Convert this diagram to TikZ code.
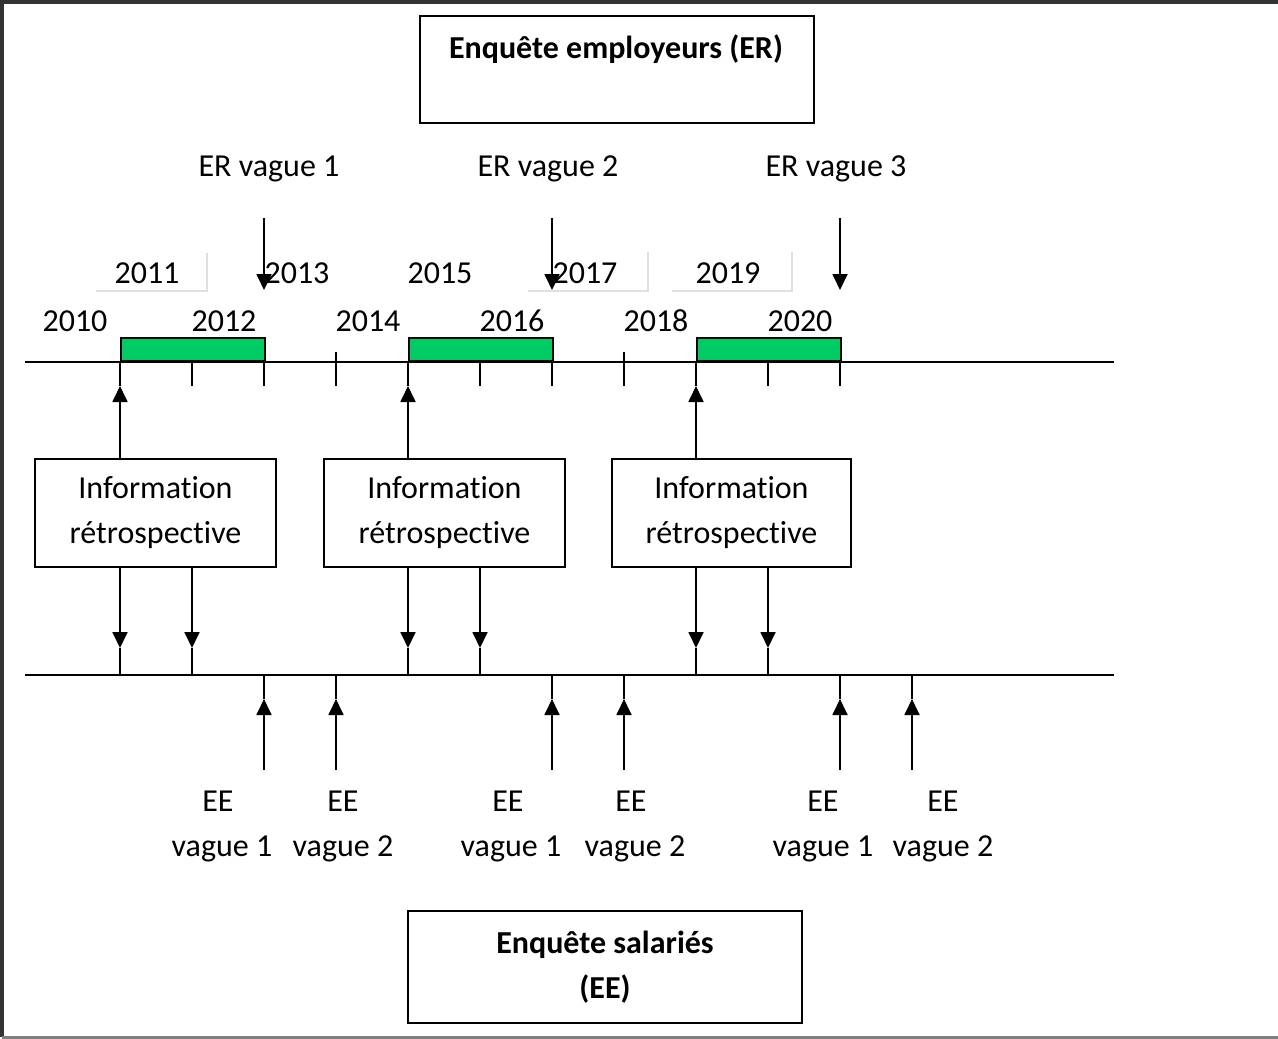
\documentclass[tikz,border=0pt]{standalone}
\usepackage{fontspec}
\setmainfont{Carlito}[Ligatures={NoCommon,NoRare},Contextuals=NoAlternate]
\usetikzlibrary{arrows.meta}
\definecolor{grn}{RGB}{0,204,102}
\begin{document}
\begin{tikzpicture}[x=1pt,y=-1pt,
  ln/.style={line width=1.8pt},
  arr/.style={ln,-{Triangle[length=16pt,width=15pt]}},
  txt/.style={font=\fontsize{32}{45}\selectfont, inner sep=0pt, anchor=base},
  bx/.style={draw, line width=1.8pt, inner sep=0pt, align=center, font=\fontsize{32}{45}\selectfont},
  period/.style={draw, line width=1.8pt, fill=grn, inner sep=0pt, anchor=south west, minimum width=144pt, minimum height=23pt},
  faint/.style={draw=black!12, line width=1.5pt}]
\useasboundingbox (0,0) rectangle (1278,1039);
% frame
\draw[line width=3.5pt, black!80] (1278,2) -- (2,2) -- (2,1037);
\draw[line width=3pt, black!50] (2,1037) -- (1278,1037);

% title boxes
\node[bx, minimum width=394pt, minimum height=107pt, anchor=north west] (erbox) at (419,15) {};
\node[txt, font=\fontsize{32}{45}\selectfont\bfseries] (ertitle) at (616,58) {Enquête employeurs (ER)};
\node[bx, minimum width=394pt, minimum height=112pt, font=\fontsize{32}{45}\selectfont\bfseries] (eebox) at (605,967) {Enquête salariés\\(EE)};

% faint text-box remnants
\draw[faint] (96,291) -- (207,291) -- (207,253);
\draw[faint] (528,291) -- (648,291) -- (648,252);
\draw[faint] (672,291) -- (792,291) -- (792,252);

% ER labels and arrows
\node[txt] (er1) at (269,176) {ER vague 1};
\node[txt] (er2) at (548,176) {ER vague 2};
\node[txt] (er3) at (836,176) {ER vague 3};
\foreach \i/\x in {1/264,2/552,3/840}{
  \coordinate (ers\i) at (\x,218);
  \coordinate (ere\i) at (\x,290);
  \draw[arr] (ers\i) -- (ere\i);
}

% year labels
\foreach \y/\x in {2011/147,2013/297,2015/440,2017/585,2019/728}{
  \node[txt] (y\y) at (\x,283) {\y};
}
\foreach \y/\x in {2010/75,2012/224,2014/368,2016/512,2018/656,2020/800}{
  \node[txt] (y\y) at (\x,331) {\y};
}

% timelines
\coordinate (tl1s) at (25,362); \coordinate (tl1e) at (1114,362);
\coordinate (tl2s) at (25,675); \coordinate (tl2e) at (1114,675);

% green periods
\node[period] (g1) at (120,362) {};
\node[period] (g2) at (408,362) {};
\node[period] (g3) at (696,362) {};

\draw[ln] (tl1s) -- (tl1e);
\draw[ln] (tl2s) -- (tl2e);

% tick coordinates
\foreach \i in {0,...,11}{
  \pgfmathsetmacro{\xx}{120+72*\i}
  \coordinate (ta\i) at (\xx,362);
  \coordinate (tb\i) at (\xx,386);
  \coordinate (tc\i) at (\xx,352);
  \coordinate (ba\i) at (\xx,675);
  \coordinate (bu\i) at (\xx,648);
  \coordinate (bd\i) at (\xx,699);
  \coordinate (bl\i) at (\xx,770);
}
% top ticks
\foreach \i in {1,2,5,6,9,10}{ \draw[ln] (ta\i) -- (tb\i); }
\foreach \i in {3,7}{ \draw[ln] (tc\i) -- (tb\i); }
\foreach \i in {0,4,8}{ \draw[ln] (ta\i) -- (tb\i); }

% information boxes
\node[bx, minimum width=241pt, minimum height=108pt] (ib1) at (155.5,513) {Information\\rétrospective};
\node[bx, minimum width=241pt, minimum height=108pt] (ib2) at (444.5,513) {Information\\rétrospective};
\node[bx, minimum width=239pt, minimum height=108pt] (ib3) at (731.5,513) {Information\\rétrospective};

\draw[arr] (ib1.north -| tb0) -- (tb0);
\draw[arr] (ib2.north -| tb4) -- (tb4);
\draw[arr] (ib3.north -| tb8) -- (tb8);

\draw[arr] (ib1.south -| bu0) -- (bu0);
\draw[arr] (ib1.south -| bu1) -- (bu1);
\draw[arr] (ib2.south -| bu4) -- (bu4);
\draw[arr] (ib2.south -| bu5) -- (bu5);
\draw[arr] (ib3.south -| bu8) -- (bu8);
\draw[arr] (ib3.south -| bu9) -- (bu9);
\foreach \i in {0,1,4,5,8,9}{ \draw[ln] (bu\i) -- (ba\i); }

% EE arrows
\foreach \i in {2,3,6,7,10,11}{
  \draw[ln] (ba\i) -- (bd\i);
  \draw[arr] (bl\i) -- (bd\i);
}

% EE labels
\foreach \n/\x in {1/218,2/343,3/508,4/631,5/823,6/943}{
  \node[txt] (ee\n) at (\x,811) {EE};
}
\node[txt] (ev1) at (222,856) {vague 1};
\node[txt] (ev2) at (343,856) {vague 2};
\node[txt] (ev3) at (511,856) {vague 1};
\node[txt] (ev4) at (635,856) {vague 2};
\node[txt] (ev5) at (823,856) {vague 1};
\node[txt] (ev6) at (943,856) {vague 2};
\end{tikzpicture}
\end{document}
